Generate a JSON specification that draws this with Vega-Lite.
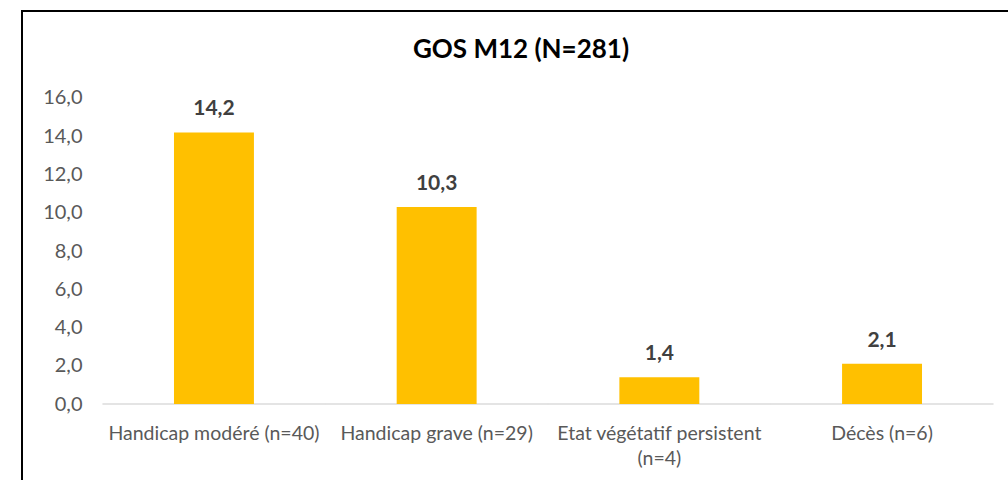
{
  "$schema": "https://vega.github.io/schema/vega-lite/v6.json",
  "width": 1052,
  "height": 480,
  "autosize": {"type": "none"},
  "padding": {"left": 22, "top": 11, "right": 0, "bottom": 0},
  "background": "white",
  "config": {
    "locale": {"number": {"decimal": ",", "thousands": " ", "grouping": [3], "currency": ["", " €"]}},
    "view": {"stroke": "#000000", "strokeWidth": 2},
    "font": "Lato"
  },
  "title": {
    "text": "GOS M12 (N=281)",
    "font": "Lato",
    "fontSize": 26,
    "fontWeight": "bold",
    "color": "#000000",
    "anchor": "middle",
    "dx": -27,
    "offset": -73,
    "baseline": "alphabetic"
  },
  "data": {
    "values": [
      {"cat": "Handicap modéré (n=40)", "value": 14.2},
      {"cat": "Handicap grave (n=29)", "value": 10.3},
      {"cat": "Etat végétatif persistent (n=4)", "value": 1.4},
      {"cat": "Décès (n=6)", "value": 2.1}
    ]
  },
  "encoding": {
    "x": {
      "field": "cat",
      "type": "nominal",
      "sort": null,
      "scale": {"paddingInner": 0.641, "paddingOuter": 0.6825},
      "axis": {
        "title": null,
        "orient": "bottom",
        "offset": -69,
        "ticks": false,
        "tickSize": 0,
        "domain": false,
        "labelAngle": 0,
        "labelPadding": 2,
        "labelLimit": 0,
        "labelFont": "Lato",
        "labelFontSize": 19.5,
        "labelColor": "#595959",
        "labelLineHeight": 25,
        "labelBaseline": "top",
        "labelExpr": "datum.label == 'Etat végétatif persistent (n=4)' ? ['Etat végétatif persistent', '(n=4)'] : datum.label"
      }
    },
    "y": {
      "field": "value",
      "type": "quantitative",
      "scale": {"domain": [-4.549, 20.549], "nice": false, "zero": false},
      "axis": {
        "title": null,
        "orient": "left",
        "offset": -64,
        "values": [0, 2, 4, 6, 8, 10, 12, 14, 16],
        "format": ".1f",
        "ticks": false,
        "tickSize": 0,
        "domain": false,
        "grid": false,
        "labelPadding": 4,
        "labelFont": "Lato",
        "labelFontSize": 20,
        "labelColor": "#595959"
      }
    }
  },
  "layer": [
    {
      "mark": {"type": "tick", "size": 223, "thickness": 2, "color": "#d9d9d9"},
      "encoding": {"y": {"datum": 0, "type": "quantitative"}}
    },
    {
      "mark": {"type": "bar", "color": "#FFC000"}
    },
    {
      "mark": {"type": "text", "baseline": "alphabetic", "dy": -17, "font": "Lato", "fontSize": 21, "fontWeight": "bold", "color": "#404040"},
      "encoding": {"text": {"field": "value", "type": "quantitative", "format": ".1f"}}
    }
  ]
}
